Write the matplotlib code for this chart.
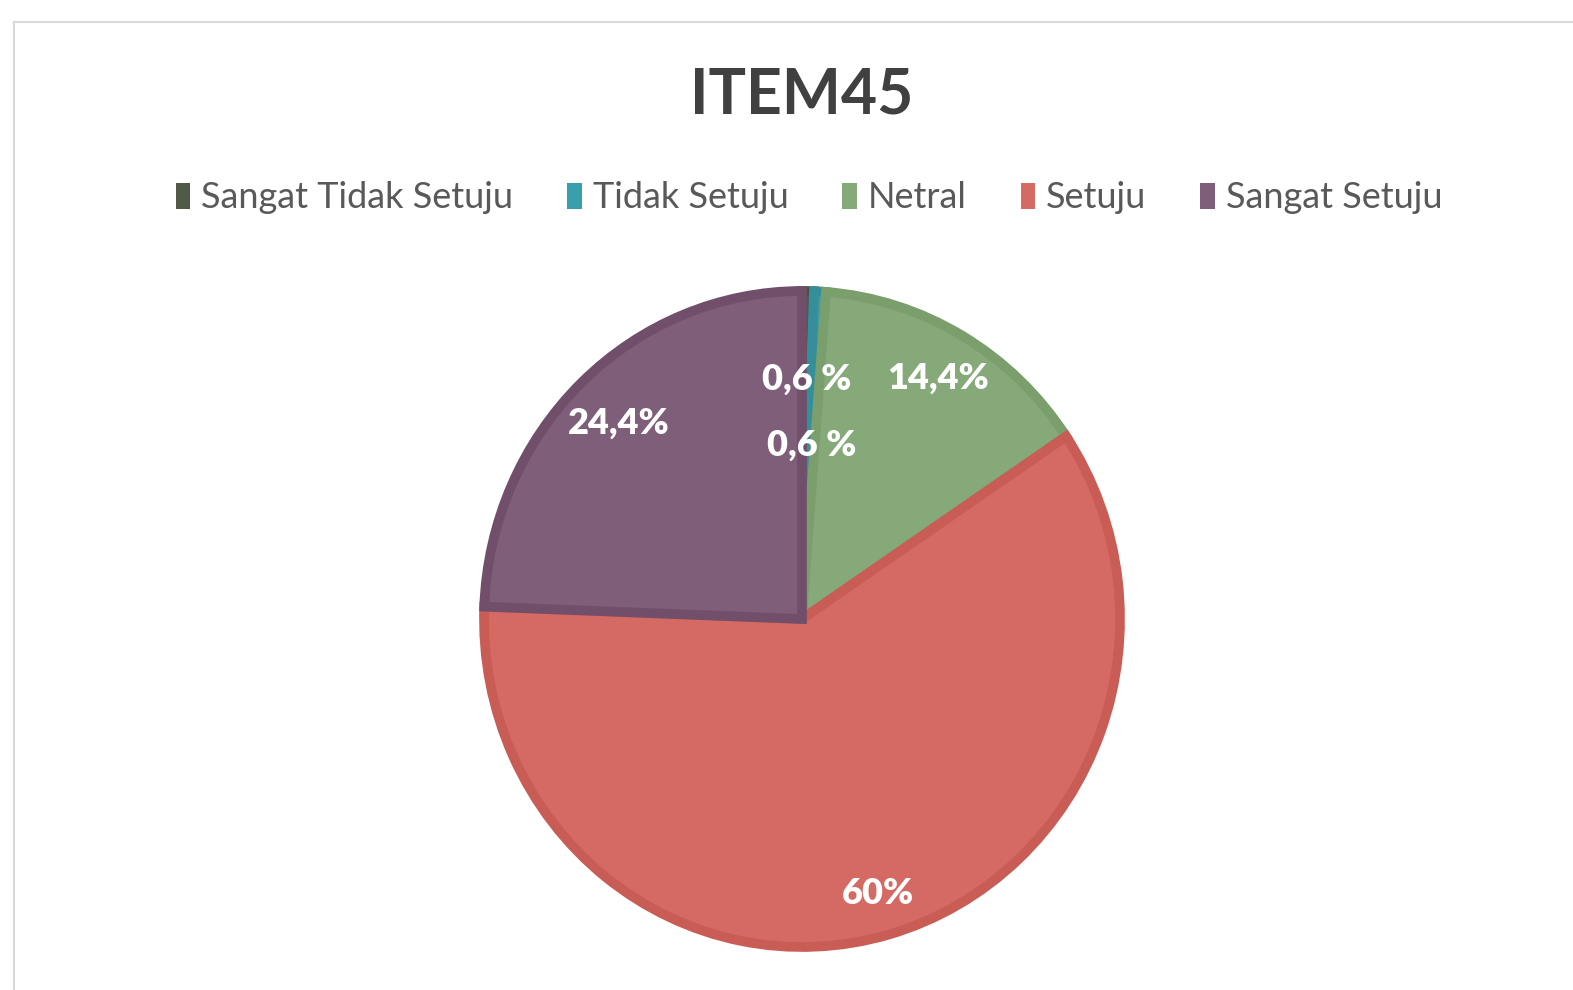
import numpy as np
import matplotlib
matplotlib.use("Agg")
import matplotlib.pyplot as plt
from matplotlib.patches import Patch

plt.rcParams['font.family'] = ['Lato', 'DejaVu Sans']

# data
categories = ["Sangat Tidak Setuju", "Tidak Setuju", "Netral", "Setuju", "Sangat Setuju"]
values = [0.6, 0.6, 14.4, 60.0, 24.4]
value_labels = ["0,6 %", "0,6 %", "14,4%", "60%", "24,4%"]
title = "ITEM45"

# styling
face_colors = ["#4f5a47", "#3a9fad", "#86a97a", "#d56a64", "#7e5e78"]
edge_colors = ["#47513f", "#358f9b", "#7a9f6d", "#c95d56", "#714f6b"]
label_dist = [0.73, 0.53, 0.85, 0.87, 0.83]

W, H = 1573, 990
fig = plt.figure(figsize=(W / 100, H / 100), dpi=100)
fig.patch.set_facecolor("white")

# chart frame (light gray border like the screenshot)
frame = fig.add_axes([14 / W, 0, 1 - 14 / W, 1 - 22 / H])
frame.set_xticks([]); frame.set_yticks([])
for side in ["right", "bottom"]:
    frame.spines[side].set_visible(False)
for side in ["left", "top"]:
    frame.spines[side].set_color("#d9d9d9")
    frame.spines[side].set_linewidth(1.5)
frame.patch.set_alpha(0)

# pie axes: centre ~(802,617), rx 320, ry 331 px
cx, cy, rx, ry = 802, 619, 318, 328
ax = fig.add_axes([(cx - rx) / W, (H - cy - ry) / H, 2 * rx / W, 2 * ry / H])
wedges, _ = ax.pie(values, startangle=90, counterclock=False, radius=1,
                   colors=face_colors,
                   wedgeprops=dict(linewidth=7, joinstyle="miter"))
for w, ec in zip(wedges, edge_colors):
    w.set_edgecolor(ec)
ax.set_aspect("auto")
ax.set_xlim(-1, 1)
ax.set_ylim(-1, 1)
ax.axis("off")

for w, txt, d in zip(wedges, value_labels, label_dist):
    ang = np.deg2rad((w.theta1 + w.theta2) / 2)
    ax.text(d * np.cos(ang), d * np.sin(ang), txt, ha="center", va="center",
            color="white", fontsize=26, fontweight="heavy")

fig.text(802 / W, 1 - 95 / H, title, ha="center", va="center", fontsize=45,
         fontweight="bold", color="#404040")

handles = [Patch(facecolor=c, edgecolor="none") for c in face_colors]
fig.legend(handles, categories, loc="center", bbox_to_anchor=(809 / W, 1 - 198 / H),
           ncol=5, frameon=False, fontsize=26, labelcolor="#595959",
           handlelength=0.4, handleheight=0.7, handletextpad=0.3,
           columnspacing=1.5)

fig.savefig("out.png", dpi=100)
